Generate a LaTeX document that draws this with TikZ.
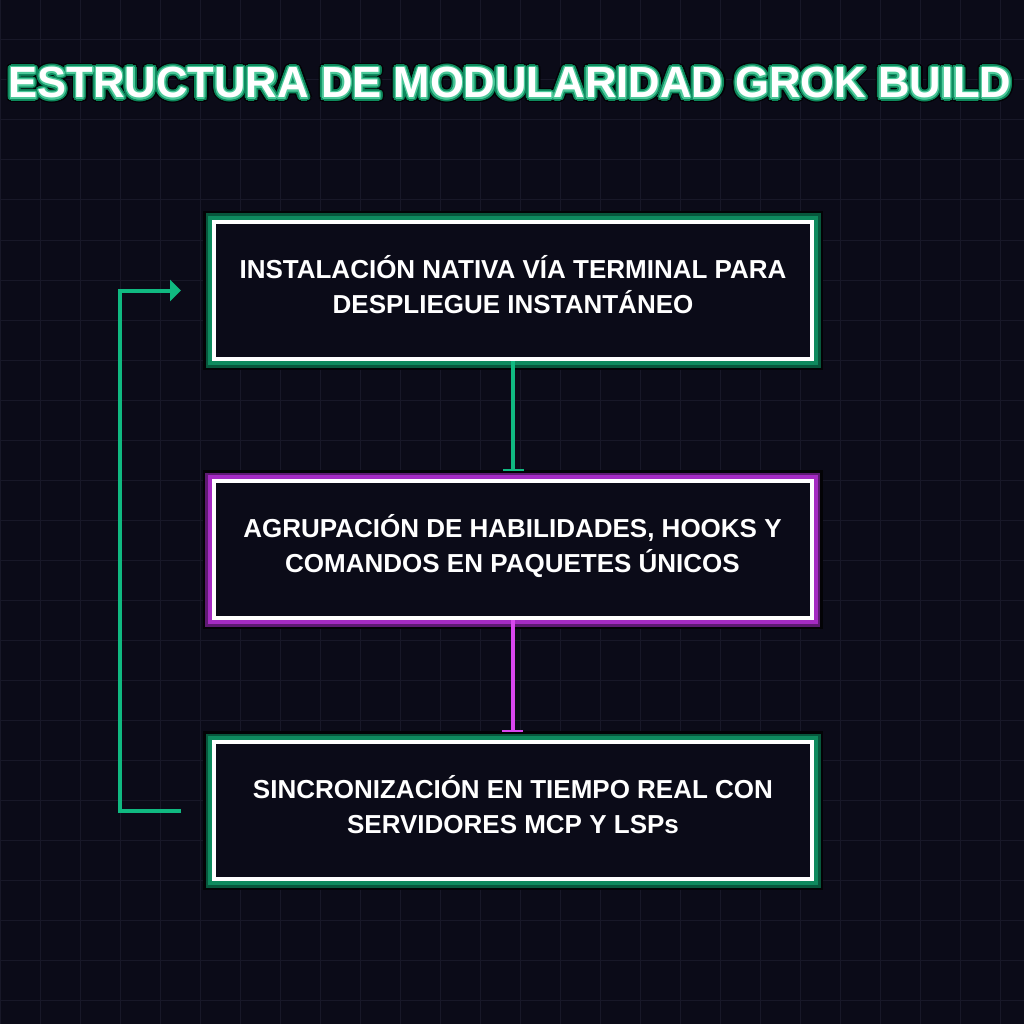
\documentclass[tikz,border=0pt]{standalone}
\usepackage{fontspec}
\setmainfont{Liberation Sans}
\usetikzlibrary{arrows.meta,calc}
\definecolor{bgc}{HTML}{0B0B18}
\definecolor{gridc}{HTML}{181828}
\definecolor{grn}{HTML}{10B981}
\definecolor{grnmid}{HTML}{0E8A5E}
\definecolor{grndark}{HTML}{07573C}
\definecolor{grnlight}{HTML}{4CC99A}
\definecolor{mag}{HTML}{D946EF}
\definecolor{magmid}{HTML}{A52BC2}
\definecolor{magdark}{HTML}{5E1A72}
\definecolor{edgeblk}{HTML}{030306}
\newcommand{\twol}[2]{\vbox{\hsize=590pt\centering\fontsize{26}{35}\selectfont\bfseries
  \smash{#1}\rule{0pt}{22.5pt}\par
  \smash{#2}\rule[-12.5pt]{0pt}{12.5pt}\par}}
\tikzset{
  gridline/.style={draw=gridc, line width=1pt},
  stagebox/.style={fill=bgc, draw=white, line width=4pt, text=white,
    minimum width=598pt, minimum height=137pt, inner sep=0pt},
  greenglow/.style={stagebox,
    preaction={draw=edgeblk, line width=22pt},
    preaction={draw=grndark, line width=17pt},
    preaction={draw=grnmid, line width=12pt}},
  magglow/.style={stagebox,
    preaction={draw=edgeblk, line width=22pt},
    preaction={draw=magdark, line width=17pt},
    preaction={draw=magmid, line width=12pt}},
  flowg/.style={draw=grn, line width=4pt, -{Bar[width=21pt,line width=2.5pt]}, shorten >=8pt},
  flowm/.style={draw=mag, line width=4pt, -{Bar[width=21pt,line width=2.5pt]}, shorten >=8pt},
  loopback/.style={draw=grn, line width=4pt, line join=miter, -{Triangle[length=11pt,width=21pt]},
    shorten <=31pt, shorten >=31pt},
  titletext/.style={font=\fontsize{43.6}{50}\selectfont\bfseries, anchor=base, inner sep=0pt}
}
\begin{document}
\begin{tikzpicture}[x=1pt,y=-1pt]
\useasboundingbox (0,0) rectangle (1024,1024);
\fill[bgc] (0,0) rectangle (1024,1024);
\foreach \i in {0,40,...,1000} {
  \draw[gridline] (\i,0) -- (\i,1024);
  \draw[gridline] (0,\i) -- (1024,\i);
}
% title with glow
\foreach \a in {0,15,...,345} {
  \node[titletext, text=edgeblk] (tgA\a) at ($(510,98)+(\a:4.6)$) {ESTRUCTURA DE MODULARIDAD GROK BUILD};
}
\foreach \a in {0,15,...,345} {
  \node[titletext, text=grnmid] (tgB\a) at ($(510,98)+(\a:3.1)$) {ESTRUCTURA DE MODULARIDAD GROK BUILD};
}
\foreach \a in {0,30,...,330} {
  \node[titletext, text=grnlight] (tgC\a) at ($(510,98)+(\a:1.3)$) {ESTRUCTURA DE MODULARIDAD GROK BUILD};
}
\node[titletext, text=white] (title) at (510,98) {ESTRUCTURA DE MODULARIDAD GROK BUILD};
% boxes
\node[greenglow] (box1) at (513,290.5) {\twol{INSTALACIÓN NATIVA VÍA TERMINAL PARA}{DESPLIEGUE INSTANTÁNEO}};
\node[magglow] (box2) at (512.5,549.5) {\twol{AGRUPACIÓN DE HABILIDADES, HOOKS Y}{COMANDOS EN PAQUETES ÚNICOS}};
\node[greenglow] (box3) at (513,810.5) {\twol{SINCRONIZACIÓN EN TIEMPO REAL CON}{SERVIDORES MCP Y LSPs}};
% connectors
\draw[flowg] (box1.south) -- (box1.south |- box2.north);
\draw[flowm] (box2.south) -- (box2.south |- box3.north);
\draw[loopback] (box3.west) -- ++(-92,0) |- (box1.west);
\end{tikzpicture}
\end{document}
